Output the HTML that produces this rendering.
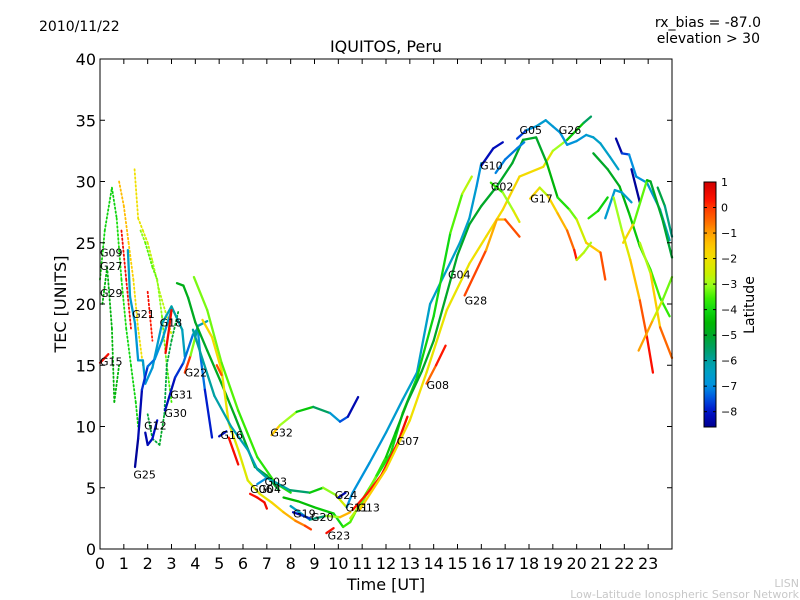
<!DOCTYPE html>
<html><head><meta charset="utf-8"><style>
html,body{margin:0;padding:0;background:#fff;width:800px;height:600px;overflow:hidden}
svg{font-family:"DejaVu Sans","Liberation Sans",sans-serif}
</style></head><body>
<svg id="chart" width="800" height="600" viewBox="0 0 800 600" xmlns="http://www.w3.org/2000/svg">
<rect width="800" height="600" fill="#fff"/>
<text x="39" y="31" font-size="14">2010/11/22</text>
<text x="761" y="27" font-size="14" text-anchor="end">rx_bias = -87.0</text>
<text x="760" y="43" font-size="14" text-anchor="end">elevation &gt; 30</text>
<text x="386" y="52" font-size="16" text-anchor="middle">IQUITOS, Peru</text>
<g id="plot"></g>
<g id="axes"></g>
<text x="386" y="590" font-size="16" text-anchor="middle">Time [UT]</text>
<text x="66" y="304" font-size="16" text-anchor="middle" transform="rotate(-90 66 304)">TEC [UNITS]</text>
<g id="cbar"></g>
<text x="754" y="305" font-size="14" text-anchor="middle" transform="rotate(-90 754 305)">Latitude</text>
<text x="799" y="587" font-size="11" fill="#c8c8c8" text-anchor="end">LISN</text>
<text x="799" y="598" font-size="11" fill="#c8c8c8" text-anchor="end">Low-Latitude Ionospheric Sensor Network</text>
</svg>
<script>
const xTicks=[0,1,2,3,4,5,6,7,8,9,10,11,12,13,14,15,16,17,18,19,20,21,22,23];
const yTicks=[0,5,10,15,20,25,30,35,40];
const cbarTicks=[1,0,-1,-2,-3,-4,-5,-6,-7,-8];
const latMin=-8.6, latMax=1;
// series: t = hour UT, v = TEC, lat = latitude per point
const series=[
{n:"d1",dot:1,t:[0.0,0.2,0.5,0.7,0.9,1.1,1.3,1.5,1.6],v:[22,26,29.5,27,22,18,15,12,10],lat:[-4,-4,-4.2,-4,-3.8,-4,-4,-4.2,-4]},
{n:"d2",dot:1,t:[0.8,1.0,1.2,1.4,1.6,1.8],v:[30,28,25,22,18,15],lat:[-1.5,-1.2,-1.5,-1.8,-2,-2]},
{n:"d3",dot:1,t:[1.45,1.6,1.8,2.0,2.2,2.5,2.8,3.0],v:[31,27,26,25,23.5,21,19,17.5],lat:[-2,-2,-2.3,-2.5,-2.8,-3,-2.5,-2]},
{n:"d4",dot:1,t:[0.9,1.1,1.3],v:[26,22,18],lat:[0.5,0.5,0.3]},
{n:"d5",dot:1,t:[2.0,2.1,2.2],v:[21,19,17],lat:[0.5,0.3,0.2]},
{n:"d6",dot:1,t:[1.7,1.9,2.2,2.4,2.6,2.8,3.0],v:[26,25,23,22,19,15,12],lat:[-3,-3.3,-3.5,-3.2,-3,-3.5,-3.5]},
{n:"d7",dot:1,t:[2.0,2.2,2.5,2.7,2.8,3.0,3.3],v:[11,9,8.5,11,15,17,19.5],lat:[-5,-5.2,-5,-5,-5.5,-5,-5]},
{n:"d8",dot:1,t:[0.1,0.3,0.5,0.6,0.8],v:[20,23,18,12,15],lat:[-4.5,-4.8,-4.5,-4.7,-4.5]},
{n:"G15",dot:0,t:[0.0,0.2,0.35],v:[15.2,15.6,15.9],lat:[0.5,0.5,0.3]},
{n:"G21",dot:0,t:[1.17,1.26,1.47,1.6,1.8,1.9,2.2,2.6,3.0,3.45,3.56],v:[24.4,20.6,18.4,15.4,15.4,13.5,14.8,18.4,19.8,17.9,15.7],lat:[-6.5,-6.5,-6.8,-6.8,-6.5,-6.8,-6.8,-6.5,-6,-6.2,-6.5]},
{n:"G25",dot:0,t:[1.47,1.6,1.76,2.0,2.3,2.6,3.0],v:[6.7,9,13,14.9,15.5,17,19.5],lat:[-8.5,-8.5,-8,-7.5,-7,-6.8,-6.5]},
{n:"G12",dot:0,t:[1.9,2.0,2.2,2.4],v:[9.5,8.5,9,10.5],lat:[-8.3,-8.3,-8,-8]},
{n:"G31",dot:0,t:[2.73,3.15,3.5,3.9,4.1,4.2,4.4,4.7],v:[11.3,14,15.2,17.5,18,16,13,9.1],lat:[-8.3,-8,-7.5,-7,-6.8,-7,-7.5,-8.3]},
{n:"G18",dot:0,t:[2.75,2.9,3.0],v:[16,18,19.5],lat:[0.5,0.5,0.4]},
{n:"G22",dot:0,t:[3.56,3.8,4.0,4.1,4.5],v:[14.4,15.8,17.3,18.2,18.6],lat:[0.5,-0.5,-5.8,-6.2,-6.2]},
{n:"e1",dot:0,t:[3.23,3.5,3.7,4.0,4.5,5.1,5.67,6.5,7.0,7.5],v:[21.7,21.5,20.5,18.5,16.2,13.5,10.8,6.7,6.0,4.8],lat:[-4.8,-4.8,-4.8,-5,-5,-4.8,-5,-5,-5.2,-5]},
{n:"e2",dot:0,t:[3.94,4.5,5.1,5.8,6.6,7.35,8.0],v:[22.2,19.5,15.2,11.3,7.5,5.4,4.6],lat:[-3.2,-3.2,-3.3,-3.5,-3.7,-3.8,-4]},
{n:"e3",dot:0,t:[4.3,4.7,5.1,5.4,5.8,6.2,6.7,7.2,7.7,8.2,8.6,8.85],v:[18.7,17.3,14.6,10.3,8.1,5.6,4.5,3.8,3.0,2.3,1.9,1.6],lat:[-1.8,-1.8,-2,-2.2,-2.3,-2.3,-2.3,-2,-1.5,-1,-0.5,0.3]},
{n:"e4",dot:0,t:[4.9,5.1],v:[15,14.2],lat:[-0.5,0]},
{n:"e5",dot:0,t:[5.4,5.6,5.8],v:[9.1,8,6.9],lat:[0.3,0.4,0.5]},
{n:"e6",dot:0,t:[3.9,4.3,4.8,5.5,6.2,6.6,7.0],v:[17.9,15.5,12.5,10,8.1,6.5,5.8],lat:[-6,-6,-6,-6.2,-6.3,-6.2,-6]},
{n:"G16",dot:0,t:[5.0,5.3],v:[9.2,9.6],lat:[-8.3,-8]},
{n:"G06",dot:0,t:[6.3,6.6,6.9,7.0],v:[4.5,4.2,3.8,3.3],lat:[0.2,0.4,0.5,0.5]},
{n:"G32",dot:0,t:[7.2,7.55,8.25,8.95,9.65,10.07,10.4,10.83],v:[9.3,10.1,11.2,11.6,11.1,10.4,10.8,12.4],lat:[-1,-2,-4,-4.5,-6.5,-7,-8,-8.5]},
{n:"G03",dot:0,t:[6.6,7.0,7.4,7.97,8.8,9.36,9.9,10.35],v:[5.3,5.8,5.4,4.8,4.6,5.0,4.4,3.4],lat:[-8,-6,-6.2,-6,-5.2,-3.2,-3,-2]},
{n:"rise1",dot:0,t:[10.35,10.6,11.3,12.0,12.7,13.3,13.85,14.55,15.1,15.5,15.8,16.0],v:[3.4,4.6,7,9.5,12.2,14.4,20,22.8,25,27,29.6,31.5],lat:[-7,-7,-6.8,-6.8,-6.5,-6.5,-6.5,-6.5,-6.5,-6.5,-6.8,-7]},
{n:"rise2",dot:0,t:[7.7,8.3,9.0,9.8,10.2,10.5,10.9,11.5,12.2,12.7,13.3,14.0,14.7,15.2,15.6],v:[4.2,3.9,3.4,2.9,1.8,2.2,3.7,5.6,7.8,11.1,14,19,25.8,29,30.4],lat:[-4.5,-4.5,-4.3,-4.2,-3.8,-3.5,-3.3,-3.8,-4,-4,-4,-4.2,-3.8,-3,-2.5]},
{n:"G20",dot:0,t:[8.0,8.8,9.5,10.07,10.5],v:[3.5,2.4,2.7,2.6,3],lat:[-6.5,-6.3,-5,-1,-1.5]},
{n:"G19",dot:0,t:[8.1,8.4,8.8],v:[3,2.8,2.5],lat:[-8.3,-8,-7.5]},
{n:"G23",dot:0,t:[9.5,9.8],v:[1.3,1.7],lat:[0.5,0.3]},
{n:"G24",dot:0,t:[10.0,10.3],v:[4.2,4.6],lat:[-8.3,-8.3]},
{n:"rise3",dot:0,t:[10.5,11.0,11.6,12.0,12.4,12.9,13.5,14.0,14.5,15.0,15.5,16.0,16.65,17.3,17.75,18.3],v:[2.5,3.8,6,7.5,9.5,12,14.5,17,20.5,24,26.5,28,29.6,31.5,33.4,33.6],lat:[-2.5,-3,-3.5,-4,-4.5,-5,-5,-5,-5,-5,-5,-5,-5,-5,-5,-5]},
{n:"G07",dot:0,t:[10.6,11.2,11.8,12.5,12.9],v:[3.2,4.5,6,8.7,10.8],lat:[0.3,0.2,0.3,0.5,0.5]},
{n:"G08",dot:0,t:[13.7,14.1,14.5],v:[13.5,15,16.6],lat:[-1,0,0.5]},
{n:"M5",dot:0,t:[10.9,12.0,13.0,13.7,14.55,15.5,16.2,16.9,17.6,18.6,19.0,19.6,20.3,20.6],v:[3.2,6.5,10.5,14.4,19.5,23.3,25.5,27.7,30.4,31.2,32.5,33.4,34.8,35.3],lat:[-1.5,-1.8,-2,-2,-2.2,-2,-2,-1.8,-1.8,-2,-2.5,-3.5,-5,-6]},
{n:"G28",dot:0,t:[15.3,16.2,16.65,17.0,17.6],v:[20.7,24.4,26.9,26.9,25.5],lat:[0.5,-0.8,-1.5,-1,0.5]},
{n:"G02",dot:0,t:[16.4,16.9,17.35,17.6],v:[29.9,29.1,27.6,26.7],lat:[-3.8,-3.5,-2.5,-2]},
{n:"G10",dot:0,t:[16.0,16.5,16.9],v:[31.3,32.7,33.2],lat:[-8.3,-8,-8.3]},
{n:"t1",dot:0,t:[16.6,17.0,17.5,17.8],v:[30.7,31.8,32.7,33.2],lat:[-7,-7.2,-7.2,-7]},
{n:"G05",dot:0,t:[17.5,17.9,18.3,18.7,19.0,19.3,19.6,20.0,20.4,20.7,21.0,21.4,21.75],v:[33.5,34.2,34.5,35,34.5,34,33,33.3,33.8,33.6,33.1,32,31],lat:[-8.3,-7,-6.8,-6.5,-6.8,-6.8,-7,-6.8,-6.8,-6.5,-6.5,-6.5,-6.5]},
{n:"G17",dot:0,t:[18.05,18.45,18.8,19.2,19.6,19.9,20.0],v:[28.6,29.5,28.8,27.4,26,24.4,23.6],lat:[0,-3.5,-2,-1.5,-1,0,0.5]},
{n:"g17b",dot:0,t:[18.3,18.75,19.2,19.7,20.0,20.4,21.0,21.2],v:[33.6,31.5,28.7,27.7,26.9,25,24.2,22],lat:[-5,-5,-4.2,-3.5,-3,-2,-1,0.5]},
{n:"yg",dot:0,t:[20.0,20.3,20.6],v:[23.6,24.2,25],lat:[-2.5,-2.8,-3]},
{n:"gs",dot:0,t:[20.5,20.9,21.3],v:[27,27.6,28.7],lat:[-3.5,-4,-4.2]},
{n:"r1",dot:0,t:[20.7,21.3,21.8,22.2,22.65,23.1,23.5,23.9],v:[32.3,31,29.6,27.4,24.7,22.8,20.5,19],lat:[-5,-5,-4.8,-4.5,-4,-3.5,-3.5,-3.8]},
{n:"r2",dot:0,t:[21.65,21.9,22.2,22.5,22.95,23.5,23.9],v:[33.5,32.3,32.2,30.4,29.9,27.7,25.2],lat:[-8.5,-8.3,-7,-7,-6.8,-6.5,-6]},
{n:"r3",dot:0,t:[22.3,22.65],v:[31,28.3],lat:[-8.5,-8.5]},
{n:"r4",dot:0,t:[21.2,21.6,21.9,22.3],v:[27,29.3,29.1,28.3],lat:[-6.5,-6.8,-6.5,-6.5]},
{n:"r5",dot:0,t:[21.95,22.4,22.95,23.1,23.6,24.0],v:[25,26.6,30.1,30,26.9,23.8],lat:[-1,-2.5,-4.2,-5,-5,-5.2]},
{n:"r6",dot:0,t:[21.55,21.9,22.25,22.65,22.95,23.2],v:[28.7,26,23.6,20.3,17.3,14.4],lat:[-3.5,-2.5,-2,-0.8,0.2,0.5]},
{n:"r7",dot:0,t:[22.65,23.1,23.5,24.0],v:[25,22.5,18.1,15.6],lat:[-3.5,-2.2,-1,0]},
{n:"r8",dot:0,t:[22.6,23.2,23.6,24.0],v:[16.2,18.7,20.3,22.2],lat:[0,-2,-3,-3.5]},
{n:"r9",dot:0,t:[23.4,23.7,24.0],v:[29.5,28,25.5],lat:[-5,-5.5,-6]}
];
const labelNames=["G09","G27","G29","G21","G18","G15","G22","G31","G30","G12","G25","G16","G32","G03","G06","G04","G24","G11","G13","G19","G20","G23","G07","G08","G04","G28","G10","G02","G05","G26","G17"];
const labelT=[0.0,0.0,0.0,1.35,2.5,0.0,3.55,2.95,2.7,1.85,1.4,5.05,7.15,6.9,6.3,6.65,9.85,10.3,10.8,8.1,8.85,9.55,12.45,13.7,14.6,15.3,15.95,16.4,17.6,19.25,18.05];
const labelV=[24.2,23.1,20.9,19.2,18.5,15.3,14.4,12.6,11.1,10.1,6.1,9.3,9.5,5.5,4.9,4.9,4.4,3.4,3.4,2.9,2.6,1.1,8.8,13.4,22.4,20.3,31.3,29.6,34.2,34.2,28.6];
// colormap stops (latitude -> color)
const cmapLat=[1,0.3,0,-0.6,-1,-1.5,-2,-2.6,-3,-3.5,-4,-4.5,-5,-5.5,-6,-6.5,-7,-7.5,-8,-8.6];
const cmapCol=["#d00000","#ff1000","#ff3800","#ff7000","#ffa000","#ffc800","#f0e000","#c8f000","#a0ff20","#40f000","#10d810","#00b800","#00a828","#00a060","#00a0a0","#00a0c8","#0090e0","#0050e0","#0010c8","#000090"];

const X0=100,X1=672,Y0=549,Y1=59;
const xs=t=>X0+(X1-X0)*t/24;
const ys=v=>Y0-(Y0-Y1)*v/40;
const hex=h=>[parseInt(h.slice(1,3),16),parseInt(h.slice(3,5),16),parseInt(h.slice(5,7),16)];
function cmap(lat){
 if(lat>=cmapLat[0]) return cmapCol[0];
 for(let i=0;i<cmapLat.length-1;i++){
  if(lat<=cmapLat[i]&&lat>=cmapLat[i+1]){
   const f=(cmapLat[i]-lat)/(cmapLat[i]-cmapLat[i+1]);
   const a=hex(cmapCol[i]),b=hex(cmapCol[i+1]);
   return `rgb(${Math.round(a[0]+(b[0]-a[0])*f)},${Math.round(a[1]+(b[1]-a[1])*f)},${Math.round(a[2]+(b[2]-a[2])*f)})`;
  }
 }
 return cmapCol[cmapCol.length-1];
}
const NS="http://www.w3.org/2000/svg";
function mk(tag,attrs,parent){const e=document.createElementNS(NS,tag);for(const k in attrs)e.setAttribute(k,attrs[k]);parent.appendChild(e);return e;}
const plot=document.getElementById('plot');
series.forEach(s=>{
 const g=mk('g',{},plot);
 
 
 for(let i=0;i<s.t.length-1;i++){
  const ln=mk('line',{x1:xs(s.t[i]),y1:ys(s.v[i]),x2:xs(s.t[i+1]),y2:ys(s.v[i+1]),stroke:cmap((s.lat[i]+s.lat[i+1])/2),'stroke-width':s.dot?1.8:2.3,'stroke-linecap':'round'},g);
  if(s.dot) ln.setAttribute('stroke-dasharray','1.5 2.5');
  
  
 }
});
labelNames.forEach((nm,i)=>{
 const tx=mk('text',{x:xs(labelT[i]),y:ys(labelV[i])+4,'font-size':11},plot);
 tx.textContent=nm;
 
 
});
const ax=document.getElementById('axes');
const fr=mk('rect',{x:X0,y:Y1,width:X1-X0,height:Y0-Y1,fill:'none',stroke:'#000','stroke-width':1},ax);


xTicks.forEach(t=>{
 const x=xs(t);
 mk('line',{x1:x,y1:Y0,x2:x,y2:Y0-5,stroke:'#000'},ax);
 mk('line',{x1:x,y1:Y1,x2:x,y2:Y1+5,stroke:'#000'},ax);
 const tx=mk('text',{x:x,y:Y0+20,'font-size':16,'text-anchor':'middle'},ax);
 tx.textContent=t;
 
 
});
yTicks.forEach(v=>{
 const y=ys(v);
 mk('line',{x1:X0,y1:y,x2:X0+5,y2:y,stroke:'#000'},ax);
 mk('line',{x1:X1,y1:y,x2:X1-5,y2:y,stroke:'#000'},ax);
 const tx=mk('text',{x:X0-4,y:y+6,'font-size':16,'text-anchor':'end'},ax);
 tx.textContent=v;
 
 
});
const cb=document.getElementById('cbar');
const CT=182,CB=427,CX=704,CW=12;
const defs=mk('defs',{},cb);
const lg=mk('linearGradient',{id:'jetg',x1:0,y1:0,x2:0,y2:1},defs);
for(let i=0;i<=40;i++){const lat=latMax-(latMax-latMin)*i/40;mk('stop',{offset:i/40,'stop-color':cmap(lat)},lg);}
const cr=mk('rect',{x:CX,y:CT,width:CW,height:CB-CT,fill:'url(#jetg)',stroke:'#000','stroke-width':1},cb);


const cy=lat=>CT+(CB-CT)*(latMax-lat)/(latMax-latMin);
cbarTicks.forEach(l=>{
 const y=cy(l);
 mk('line',{x1:CX,y1:y,x2:CX+3,y2:y,stroke:'#000'},cb);
 mk('line',{x1:CX+CW,y1:y,x2:CX+CW-3,y2:y,stroke:'#000'},cb);
 const tx=mk('text',{x:CX+CW+5,y:y+4,'font-size':11},cb);
 tx.textContent=l<0?'\u2212'+(-l):String(l);
 
 
});
</script>
</body></html>
